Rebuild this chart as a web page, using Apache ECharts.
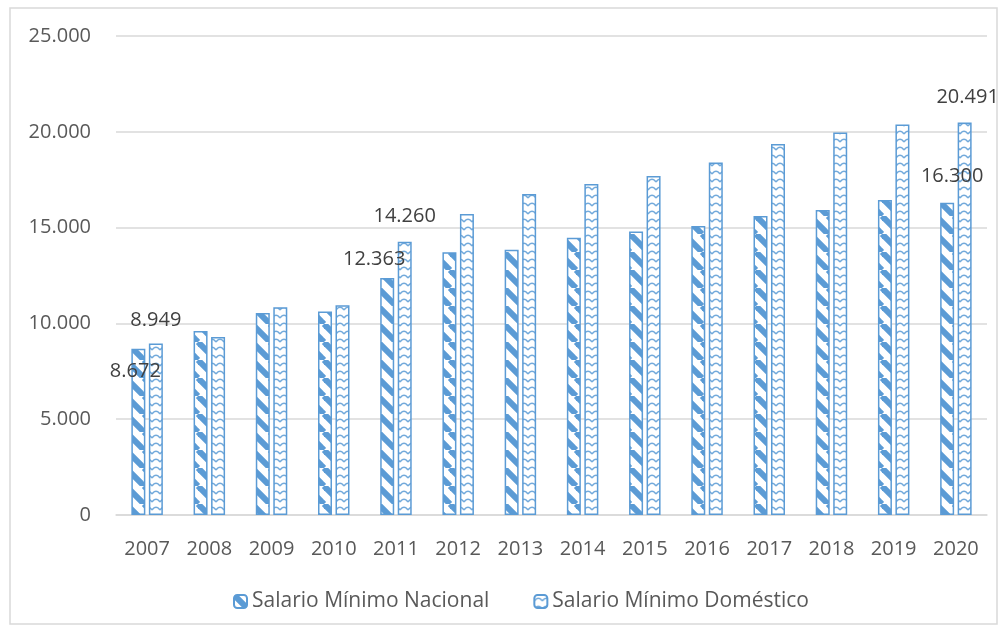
<!DOCTYPE html>
<html>
<head>
<meta charset="utf-8">
<script src="https://cdn.jsdelivr.net/npm/echarts@6/dist/echarts.min.js"></script>
<style>
  html, body { margin: 0; padding: 0; background: #fff; }
  #chart { width: 1004px; height: 631px; }
</style>
</head>
<body>
<div id="chart"></div>
<script>
// datos
const years = ['2007', '2008', '2009', '2010', '2011', '2012', '2013', '2014', '2015', '2016', '2017', '2018', '2019', '2020']
const nacional = [8672, 9599, 10537, 10625, 12363, 13714, 13838, 14464, 14792, 15080, 15608, 15920, 16443, 16300]
const domestico = [8949, 9287, 10849, 10953, 14260, 15714, 16755, 17276, 17693, 18401, 19359, 19964, 20380, 20491]
const seriesNames = ['Salario Mínimo Nacional', 'Salario Mínimo Doméstico']

// solo algunas barras llevan etiqueta (índice -> desplazamiento)
const labelsNacional = { 0: [-3, 37], 4: [-13, -4], 13: [5, -11] }
const labelsDomestico = { 0: [0, -8], 4: [0, -10], 13: [3, -10] }

const BLUE = '#5B9BD5'
const FONT = '"Open Sans", "Noto Sans", sans-serif'

function fmt(v) {
  return String(v).replace(/\B(?=(\d{3})+(?!\d))/g, '.')
}

// trama de franjas diagonales anchas
function stripePattern() {
  const s = 18
  const c = document.createElement('canvas')
  c.width = s; c.height = s
  const ctx = c.getContext('2d')
  ctx.fillStyle = '#fff'
  ctx.fillRect(0, 0, s, s)
  ctx.strokeStyle = BLUE
  ctx.lineWidth = 6
  for (const x0 of [-s, 0, s]) {
    ctx.beginPath()
    ctx.moveTo(x0, 0)
    ctx.lineTo(x0 + s, s)
    ctx.stroke()
  }
  return c
}

// trama de arcos pequeños
function arcPattern() {
  const w = 8, h = 8
  const c = document.createElement('canvas')
  c.width = w; c.height = h
  const ctx = c.getContext('2d')
  ctx.fillStyle = '#fff'
  ctx.fillRect(0, 0, w, h)
  ctx.strokeStyle = 'rgba(91,155,213,0.85)'
  ctx.lineWidth = 1.4
  ctx.beginPath()
  ctx.moveTo(0, 6)
  ctx.quadraticCurveTo(4, 0.5, 8, 6)
  ctx.stroke()
  return c
}

function buildData(values, labels) {
  return values.map((v, i) => {
    if (!(i in labels)) return v
    return {
      value: v,
      label: { show: true, offset: labels[i] }
    }
  })
}

const chart = echarts.init(document.getElementById('chart'))

const labelStyle = {
  show: false,
  position: 'top',
  distance: 5,
  color: '#404040',
  fontSize: 20,
  fontFamily: FONT,
  formatter: p => fmt(p.value)
}

chart.setOption({
  animation: false,
  graphic: [{
    type: 'rect',
    shape: { x: 10, y: 8, width: 987, height: 616 },
    style: { fill: 'none', stroke: '#D9D9D9', lineWidth: 1.5 },
    silent: true
  }],
  grid: { left: 116, right: 17, top: 36, bottom: 116, containLabel: false },
  legend: {
    bottom: 14,
    left: 228,
    itemWidth: 13,
    itemHeight: 13,
    itemGap: 44,
    textStyle: { color: '#595959', fontSize: 21, fontFamily: FONT },
    data: seriesNames
  },
  xAxis: {
    type: 'category',
    data: years,
    axisTick: { show: false },
    axisLine: { lineStyle: { color: '#D9D9D9', width: 1.5 } },
    axisLabel: { color: '#595959', fontSize: 20, fontFamily: FONT, margin: 24 }
  },
  yAxis: {
    type: 'value',
    min: 0,
    max: 25000,
    interval: 5000,
    axisLine: { show: false },
    axisTick: { show: false },
    splitLine: { lineStyle: { color: '#D9D9D9', width: 1.5 } },
    axisLabel: {
      color: '#595959', fontSize: 20, fontFamily: FONT, margin: 25,
      formatter: v => fmt(v)
    }
  },
  series: [
    {
      name: seriesNames[0],
      type: 'bar',
      barWidth: 14,
      barGap: '25%',
      data: buildData(nacional, labelsNacional),
      itemStyle: {
        color: { image: stripePattern(), repeat: 'repeat' },
        borderColor: BLUE,
        borderWidth: 1.5
      },
      label: labelStyle
    },
    {
      name: seriesNames[1],
      type: 'bar',
      barWidth: 14,
      barGap: '25%',
      data: buildData(domestico, labelsDomestico),
      itemStyle: {
        color: { image: arcPattern(), repeat: 'repeat' },
        borderColor: BLUE,
        borderWidth: 1.5
      },
      label: labelStyle
    }
  ]
})
</script>
</body>
</html>
